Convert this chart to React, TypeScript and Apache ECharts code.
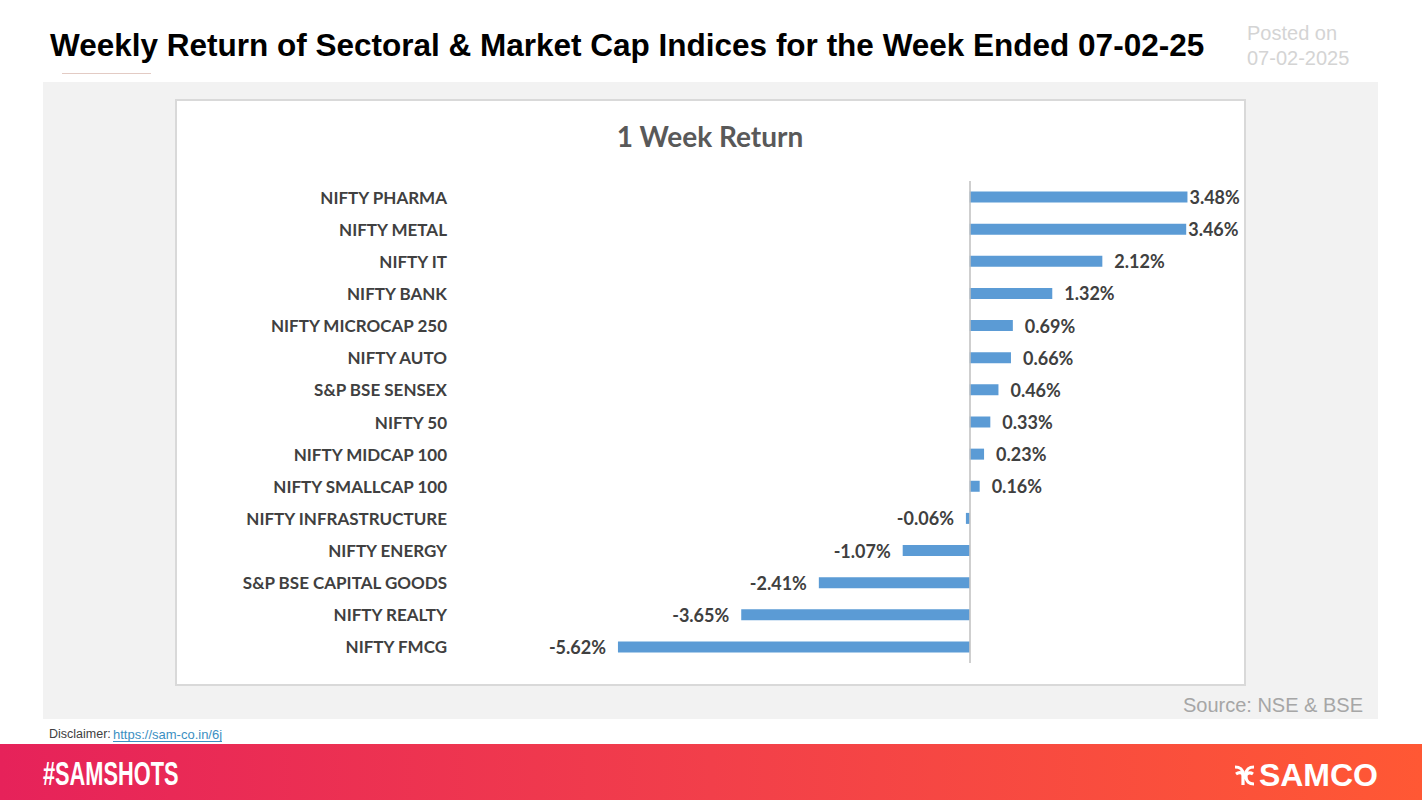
import React, { useEffect, useRef } from "react";
import * as echarts from "echarts";

const categories = [
  "NIFTY PHARMA",
  "NIFTY METAL",
  "NIFTY IT",
  "NIFTY BANK",
  "NIFTY MICROCAP 250",
  "NIFTY AUTO",
  "S&P BSE SENSEX",
  "NIFTY 50",
  "NIFTY MIDCAP 100",
  "NIFTY SMALLCAP 100",
  "NIFTY INFRASTRUCTURE",
  "NIFTY ENERGY",
  "S&P BSE CAPITAL GOODS",
  "NIFTY REALTY",
  "NIFTY FMCG",
];
const returns = [3.48, 3.46, 2.12, 1.32, 0.69, 0.66, 0.46, 0.33, 0.23, 0.16, -0.06, -1.07, -2.41, -3.65, -5.62];

const pageTitle = "Weekly Return of Sectoral & Market Cap Indices for the Week Ended 07-02-25";
const chartTitle = "1 Week Return";
const postedLines = ["Posted on", "07-02-2025"];
const sourceText = "Source: NSE & BSE";

let registered = false;
function registerLogo() {
  if (registered) return;
  registered = true;
  const d =
    "M1 3 C6 3 9 6 9 10 L9 21 M9 12 C9 8 5 8 2 10 M20 3 C15 3 12 6 12 10 L12 13 C12 17 15 20 20 20 M12 12 C12 9 16 8 19 10";
  echarts.graphic.registerShape("logo", echarts.graphic.extendPath(d, {}));
}

export default function App() {
  const ref = useRef<HTMLDivElement>(null);
  useEffect(() => {
    if (!ref.current) return;
    registerLogo();
    const chart = echarts.init(ref.current, null, { renderer: "svg" });
    const labelFont = "Lato, 'Open Sans', sans-serif";
    const arial = "'Liberation Sans', Arial, sans-serif";
    chart.setOption({
      animation: false,
      backgroundColor: "#ffffff",
      grid: { left: 469, width: 751, top: 181, height: 482, containLabel: false },
      xAxis: {
        type: "value",
        min: -8,
        max: 4,
        show: false,
        splitLine: { show: false },
      },
      yAxis: {
        type: "category",
        inverse: true,
        data: categories,
        axisLine: { show: false },
        axisTick: { show: false },
        splitLine: { show: false },
        axisLabel: {
          margin: 22,
          color: "#404040",
          fontFamily: labelFont,
          fontWeight: "bold",
          fontSize: 17,
        },
      },
      graphic: [
        { type: "rect", shape: { x: 43, y: 82, width: 1335, height: 637 }, style: { fill: "#f2f2f2" }, z: -10 },
        {
          type: "rect",
          shape: { x: 176, y: 100, width: 1069, height: 585 },
          style: { fill: "#ffffff", stroke: "#d9d9d9", lineWidth: 2 },
          z: -9,
        },
        {
          type: "text",
          x: 50,
          y: 45,
          style: { text: pageTitle, fill: "#000", font: `bold 31.5px ${arial}`, verticalAlign: "middle" },
        },
        {
          type: "text",
          x: 1247,
          y: 33,
          style: { text: postedLines[0], fill: "#d4d4d4", font: `20px ${arial}`, verticalAlign: "middle" },
        },
        {
          type: "text",
          x: 1247,
          y: 58,
          style: { text: postedLines[1], fill: "#d4d4d4", font: `20px ${arial}`, verticalAlign: "middle" },
        },
        { type: "rect", shape: { x: 62, y: 73, width: 89, height: 1 }, style: { fill: "#e3cbc4" } },
        {
          type: "text",
          x: 710,
          y: 136,
          style: { text: chartTitle, fill: "#595959", font: `bold 28px ${labelFont}`, align: "center", verticalAlign: "middle" },
        },
        {
          type: "text",
          x: 1363,
          y: 705,
          style: { text: sourceText, fill: "#a6a6a6", font: `20px ${arial}`, align: "right", verticalAlign: "middle" },
        },
        {
          type: "text",
          x: 49,
          y: 734,
          style: { text: "Disclaimer: ", fill: "#404040", font: `12.5px ${arial}`, verticalAlign: "middle" },
        },
        {
          type: "text",
          x: 113,
          y: 734,
          style: { text: "https://sam-co.in/6j", fill: "#3b8fc2", font: `13px ${arial}`, verticalAlign: "middle" },
        },
        { type: "rect", shape: { x: 113, y: 741, width: 109, height: 1 }, style: { fill: "#3b8fc2" } },
        {
          type: "rect",
          shape: { x: 0, y: 744, width: 1422, height: 56 },
          style: {
            fill: {
              type: "linear",
              x: 0,
              y: 0,
              x2: 1,
              y2: 0,
              colorStops: [
                { offset: 0, color: "#e6225a" },
                { offset: 0.5, color: "#f23f4a" },
                { offset: 1, color: "#ff5834" },
              ],
            },
          },
        },
        {
          type: "text",
          x: 43,
          y: 774,
          scaleX: 0.66,
          style: { text: "#SAMSHOTS", fill: "#ffffff", font: `bold 33px ${arial}`, verticalAlign: "middle" },
        },
        {
          type: "text",
          x: 1378,
          y: 775,
          style: { text: "SAMCO", fill: "#ffffff", font: `900 32px ${arial}`, align: "right", verticalAlign: "middle" },
        },
        {
          type: "logo",
          x: 1234,
          y: 764,
          scaleX: 1,
          scaleY: 1,
          style: { stroke: "#ffffff", fill: "none", lineWidth: 3.2 },
        },
      ],
      series: [
        {
          type: "bar",
          barWidth: 11,
          itemStyle: { color: "#5b9bd5" },
          data: returns.map((v, i) => ({
            value: v,
            label: {
              position: v >= 0 ? "right" : "left",
              distance: v >= 0 && i < 2 ? 2 : 12,
            },
          })),
          label: {
            show: true,
            color: "#404040",
            fontFamily: labelFont,
            fontWeight: "bold",
            fontSize: 18,
            formatter: (p: any) => `${Number(p.value).toFixed(2)}%`,
          },
          markLine: {
            silent: true,
            symbol: ["none", "none"],
            label: { show: false },
            lineStyle: { color: "#bfbfbf", type: "solid", width: 1.5 },
            data: [{ xAxis: 0 }],
          },
        },
      ],
    });
    return () => chart.dispose();
  }, []);
  return <div ref={ref} style={{ position: "fixed", left: 0, top: 0, width: 1422, height: 800 }} />;
}
